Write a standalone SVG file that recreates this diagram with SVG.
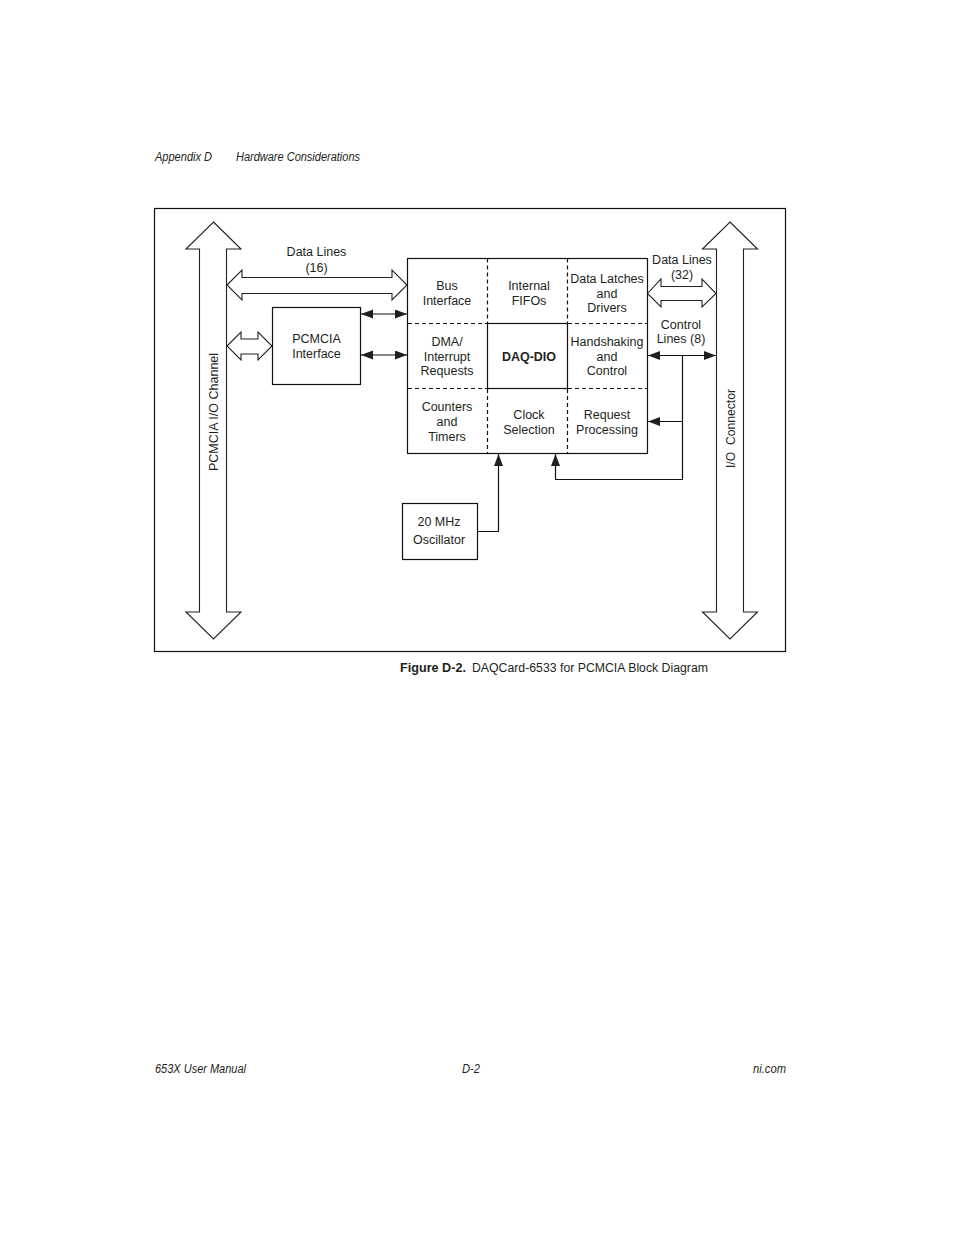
<svg xmlns="http://www.w3.org/2000/svg" width="954" height="1235" viewBox="0 0 954 1235">
<style>
text{font-family:"Liberation Sans",Arial,sans-serif;font-size:12.5px;fill:#231f20;text-anchor:middle}
.hf{font-size:12px;font-style:italic;text-anchor:start}
.box{fill:#fff;stroke:#111;stroke-width:1.2}
.out{fill:#fff;stroke:#222;stroke-width:1.1;stroke-linejoin:miter}
.ln{fill:none;stroke:#111;stroke-width:1.2}
.dash{fill:none;stroke:#111;stroke-width:1.2;stroke-dasharray:4 3}
</style>
<defs>
<marker id="ah" markerUnits="userSpaceOnUse" markerWidth="13" markerHeight="10" refX="12" refY="4.500" orient="auto-start-reverse"><path d="M0 0L12 4.500L0 9Z" fill="#231f20"/></marker>
</defs>
<rect id="frame" x="154.500" y="208.500" width="631" height="443" fill="#fff" stroke="#111" stroke-width="1.2"/>
<text class="hf" x="155" y="161" textLength="57" lengthAdjust="spacingAndGlyphs">Appendix D</text>
<text class="hf" x="236" y="161" textLength="124" lengthAdjust="spacingAndGlyphs">Hardware Considerations</text>
<g id="main">
<rect class="box" x="407.500" y="258.500" width="240" height="195"/>
<path class="dash" d="M487.500 258.500V323M567.500 258.500V323M487.500 389V453.500M567.500 389V453.500M408 323.500H487M568 323.500H647M408 388.500H487M568 388.500H647"/>
<rect class="box" x="487.500" y="323.500" width="80" height="65"/>
<text x="447" y="290">Bus</text><text x="447" y="305">Interface</text>
<text x="529" y="290">Internal</text><text x="529" y="305">FIFOs</text>
<text x="607" y="283">Data Latches</text><text x="607" y="298">and</text><text x="607" y="312">Drivers</text>
<text x="447" y="346">DMA/</text><text x="447" y="361">Interrupt</text><text x="447" y="375">Requests</text>
<text x="529" y="361" font-weight="bold">DAQ-DIO</text>
<text x="607" y="346">Handshaking</text><text x="607" y="361">and</text><text x="607" y="375">Control</text>
<text x="447" y="411">Counters</text><text x="447" y="426">and</text><text x="447" y="441">Timers</text>
<text x="529" y="419">Clock</text><text x="529" y="434">Selection</text>
<text x="607" y="419">Request</text><text x="607" y="434">Processing</text>
</g>
<g id="pcmcia-interface">
<rect class="box" x="272.500" y="307.500" width="88" height="77"/>
<text x="316.500" y="343">PCMCIA</text><text x="316.500" y="358">Interface</text>
</g>
<g id="oscillator">
<rect class="box" x="402.500" y="503.500" width="75" height="56"/>
<text x="439" y="526">20 MHz</text><text x="439" y="544">Oscillator</text>
</g>
<g id="pcmcia-channel">
<path class="out" d="M213.500 222L241 249H226.500V612H241L213.500 639L186 612H199.500V249H186Z"/>
<text transform="translate(217.500 412) rotate(-90)">PCMCIA I/O Channel</text>
</g>
<g id="io-connector">
<path class="out" d="M730 222L757.500 249H743.500V612H757.500L730 639L702.500 612H716.500V249H702.500Z"/>
<text transform="translate(734.500 428.500) rotate(-90)" xml:space="preserve" textLength="79" lengthAdjust="spacingAndGlyphs">I/O  Connector</text>
</g>
<g id="connectors">
<path class="out" d="M227 285L242 270V277.500H392V270L407 285L392 300V293.500H242V300Z"/>
<path class="out" d="M227 346L241 332V339H258V332L272 346L258 360V354H241V360Z"/>
<path class="out" d="M647.500 293.500L661 279V286.500H702V279L716 293.500L702 307V300.500H661V307Z"/>
<path class="ln" marker-start="url(#ah)" marker-end="url(#ah)" d="M361 314H407"/>
<path class="ln" marker-start="url(#ah)" marker-end="url(#ah)" d="M361 355H407"/>
<path class="ln" marker-start="url(#ah)" marker-end="url(#ah)" d="M648 355.500H716"/>
<path class="ln" d="M682.500 355.500V479.500H555.500V454" marker-end="url(#ah)"/>
<path class="ln" d="M682.500 421.500H648" marker-end="url(#ah)"/>
<path class="ln" d="M477.500 531.500H498.500V454" marker-end="url(#ah)"/>
</g>
<g id="labels">
<text x="316.500" y="256">Data Lines</text><text x="316.500" y="272">(16)</text>
<text x="682" y="264">Data Lines</text><text x="682" y="279">(32)</text>
<text x="681" y="329">Control</text><text x="681" y="343">Lines (8)</text>
</g>
<text x="400" y="672" font-weight="bold" style="text-anchor:start" textLength="66" lengthAdjust="spacingAndGlyphs">Figure D-2.</text>
<text x="472" y="672" style="text-anchor:start" textLength="236" lengthAdjust="spacingAndGlyphs">DAQCard-6533 for PCMCIA Block Diagram</text>
<text class="hf" x="155" y="1073" textLength="91" lengthAdjust="spacingAndGlyphs">653X User Manual</text>
<text class="hf" x="462" y="1073" textLength="18" lengthAdjust="spacingAndGlyphs">D-2</text>
<text class="hf" x="753" y="1073" textLength="33" lengthAdjust="spacingAndGlyphs">ni.com</text>
</svg>
